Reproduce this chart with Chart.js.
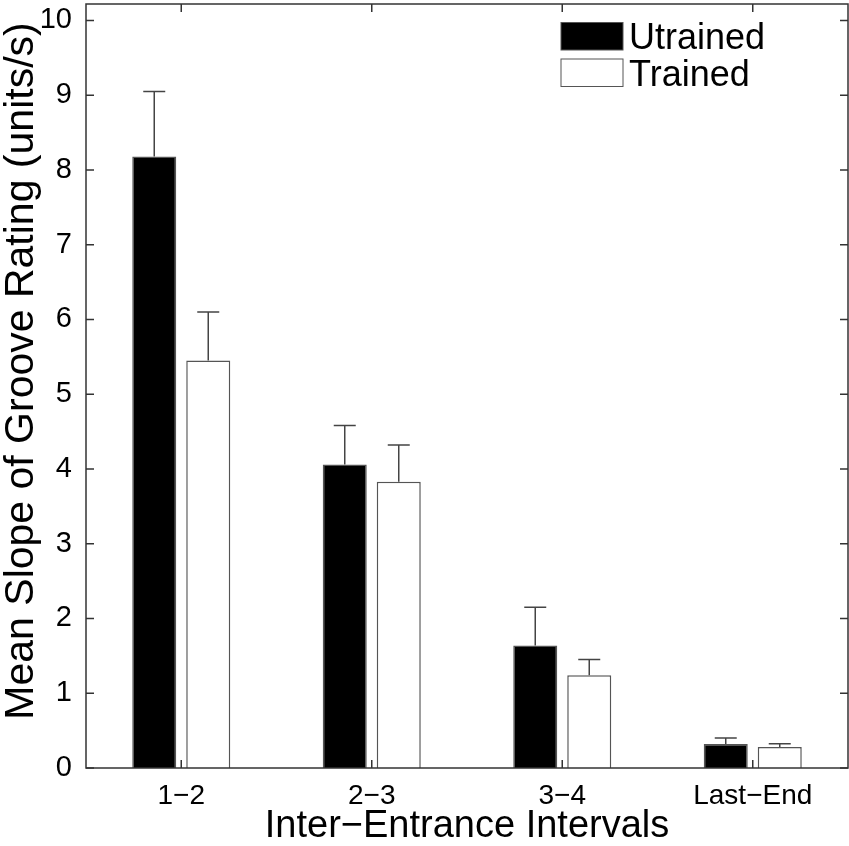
<!DOCTYPE html>
<html lang="en">
<head>
    <meta charset="utf-8" />
    <title>Groove Rating Slopes</title>
    <script src="https://cdn.jsdelivr.net/npm/chart.js"></script>
    <style>
        html, body { margin: 0; padding: 0; background: #fff; }
        #wrap { width: 849px; height: 846px; }
    </style>
</head>
<body>
    <div id="wrap"><canvas id="grooveChart" width="849" height="846"></canvas></div>
    <script>
        // values
        var intervals = ['1\u22122', '2\u22123', '3\u22124', 'Last\u2212End'];
        var untrainedMean = [8.18, 4.06, 1.64, 0.32];
        var untrainedErr = [0.87, 0.52, 0.51, 0.08];
        var trainedMean = [5.45, 3.83, 1.24, 0.28];
        var trainedErr = [0.65, 0.49, 0.21, 0.045];
        var yTicks = [0, 1, 2, 3, 4, 5, 6, 7, 8, 9, 10];
        var yTitle = 'Mean Slope of Groove Rating (units/s)';

        var font = "'Liberation Sans', Arial, Helvetica, sans-serif";
        var axisColor = '#333';

        // upper error bars, drawn through the scales
        var errorBars = {
            id: 'errorBars',
            afterDatasetsDraw: function(chart) {
                var ctx = chart.ctx;
                var y = chart.scales.y;
                var errs = [untrainedErr, trainedErr];
                ctx.save();
                ctx.strokeStyle = '#444';
                ctx.lineWidth = 1.5;
                chart.data.datasets.forEach(function(ds, di) {
                    var meta = chart.getDatasetMeta(di);
                    meta.data.forEach(function(bar, i) {
                        var top = y.getPixelForValue(ds.data[i]);
                        var end = y.getPixelForValue(ds.data[i] + errs[di][i]);
                        ctx.beginPath();
                        ctx.moveTo(bar.x, top);
                        ctx.lineTo(bar.x, end);
                        ctx.moveTo(bar.x - 11, end);
                        ctx.lineTo(bar.x + 11, end);
                        ctx.stroke();
                    });
                });
                ctx.restore();
            }
        };

        // matlab style box with inward ticks, y title and the legend box
        var axisBox = {
            id: 'axisBox',
            afterDraw: function(chart) {
                var ctx = chart.ctx;
                var a = chart.chartArea;
                var x = chart.scales.x, y = chart.scales.y;
                ctx.save();
                ctx.strokeStyle = axisColor;
                ctx.lineWidth = 1.5;
                ctx.strokeRect(a.left, a.top, a.right - a.left, a.bottom - a.top);
                ctx.beginPath();
                yTicks.forEach(function(v) {
                    var py = y.getPixelForValue(v);
                    ctx.moveTo(a.left, py); ctx.lineTo(a.left + 8, py);
                    ctx.moveTo(a.right, py); ctx.lineTo(a.right - 8, py);
                });
                intervals.forEach(function(c, i) {
                    var px = x.getPixelForValue(i);
                    ctx.moveTo(px, a.bottom); ctx.lineTo(px, a.bottom - 8);
                    ctx.moveTo(px, a.top); ctx.lineTo(px, a.top + 8);
                });
                ctx.stroke();

                // y axis title
                ctx.save();
                ctx.fillStyle = '#000';
                ctx.font = '41px ' + font;
                ctx.textAlign = 'center';
                ctx.textBaseline = 'alphabetic';
                ctx.translate(33, 371);
                ctx.rotate(-Math.PI / 2);
                ctx.fillText(yTitle, 0, 0);
                ctx.restore();

                // legend
                var items = chart.data.datasets;
                ctx.font = '36px ' + font;
                ctx.textBaseline = 'alphabetic';
                items.forEach(function(ds, i) {
                    var ly = 22.5 + i * 36.5;
                    ctx.fillStyle = ds.backgroundColor;
                    ctx.fillRect(561, ly, 62, 27.5);
                    ctx.strokeStyle = '#555';
                    ctx.lineWidth = 1;
                    ctx.strokeRect(561, ly, 62, 27.5);
                    ctx.fillStyle = '#000';
                    ctx.fillText(ds.label, 629, ly + 26.5);
                });
                ctx.restore();
            }
        };

        new Chart(document.getElementById('grooveChart'), {
            type: 'bar',
            data: {
                labels: intervals,
                datasets: [{
                    label: 'Utrained',
                    data: untrainedMean,
                    backgroundColor: '#000',
                    borderColor: '#555',
                    borderWidth: 1.5,
                    categoryPercentage: 0.567,
                    barPercentage: 0.815
                }, {
                    label: 'Trained',
                    data: trainedMean,
                    backgroundColor: '#fff',
                    borderColor: '#555',
                    borderWidth: 1.5,
                    categoryPercentage: 0.567,
                    barPercentage: 0.815
                }]
            },
            options: {
                responsive: false,
                animation: false,
                layout: { padding: { top: 4, right: 1, left: 0, bottom: 0 } },
                plugins: {
                    legend: { display: false },
                    tooltip: { enabled: false }
                },
                scales: {
                    x: {
                        grid: { display: false },
                        border: { display: false },
                        ticks: { color: '#000', font: { family: font, size: 28 }, padding: 3 },
                        title: {
                            display: true,
                            text: 'Inter\u2212Entrance Intervals',
                            color: '#000',
                            font: { family: font, size: 38 },
                            padding: { top: 0, bottom: -3 }
                        },
                        afterFit: function(s) {
                            s.height = 78;
                            s.paddingLeft = 0;
                            s.paddingRight = 0;
                        }
                    },
                    y: {
                        min: 0,
                        max: 10.22,
                        grid: { display: false },
                        border: { display: false },
                        ticks: { stepSize: 1, color: '#000', font: { family: font, size: 29 }, padding: 6 },
                        afterBuildTicks: function(s) {
                            s.ticks = yTicks.map(function(v) { return { value: v }; });
                        },
                        title: { display: false },
                        afterFit: function(s) {
                            s.width = 86;
                            s.paddingTop = 0;
                            s.paddingBottom = 0;
                        }
                    }
                }
            },
            plugins: [errorBars, axisBox]
        });
    </script>
</body>
</html>
